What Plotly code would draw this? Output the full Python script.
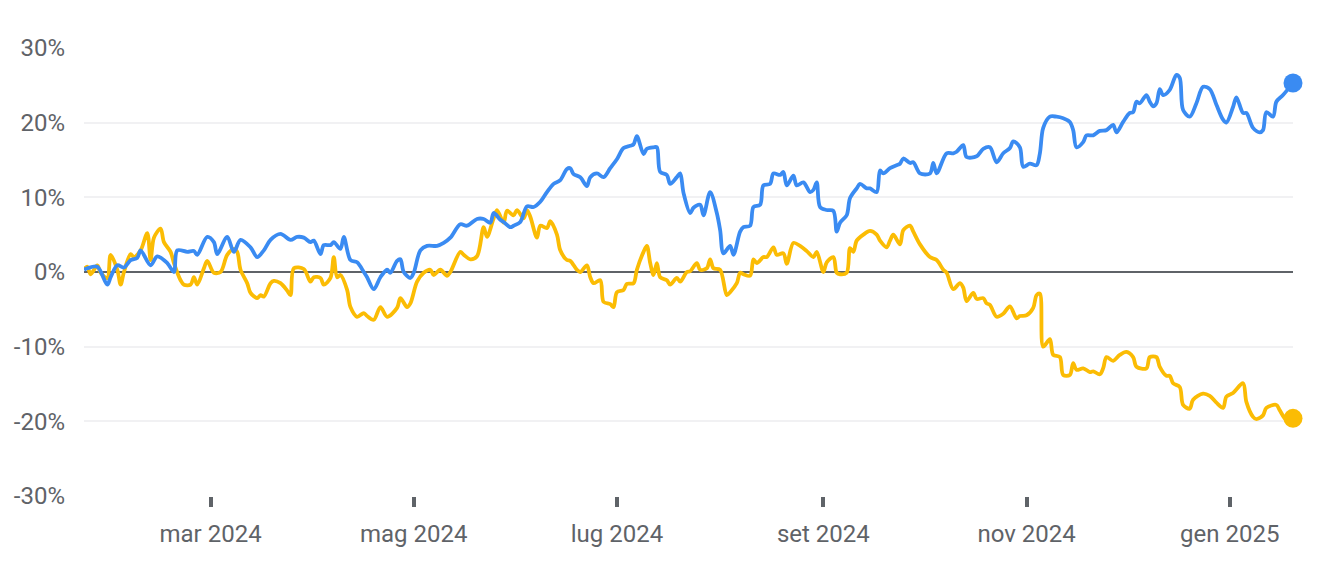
import plotly.graph_objects as go

# ---- data (cumulative % change) ----
blue_dates = [
    "2024-01-23","2024-01-24","2024-01-27","2024-01-30","2024-01-31","2024-02-02","2024-02-04","2024-02-06",
    "2024-02-08","2024-02-09","2024-02-12","2024-02-14","2024-02-17","2024-02-19","2024-02-20","2024-02-23",
    "2024-02-25","2024-02-26","2024-02-29","2024-03-02","2024-03-03","2024-03-06","2024-03-08","2024-03-10",
    "2024-03-13","2024-03-15","2024-03-17","2024-03-19","2024-03-22","2024-03-25","2024-03-27","2024-03-29",
    "2024-03-31","2024-04-01","2024-04-03","2024-04-04","2024-04-06","2024-04-07","2024-04-09","2024-04-10",
    "2024-04-12","2024-04-14","2024-04-16","2024-04-17","2024-04-19","2024-04-21","2024-04-23","2024-04-24",
    "2024-04-26","2024-04-27","2024-04-28","2024-04-30","2024-05-01","2024-05-03","2024-05-05","2024-05-08",
    "2024-05-10","2024-05-12","2024-05-15","2024-05-17","2024-05-20","2024-05-22","2024-05-24","2024-05-25",
    "2024-05-27","2024-05-28","2024-05-30","2024-05-31","2024-06-02","2024-06-04","2024-06-06","2024-06-08",
    "2024-06-10","2024-06-12","2024-06-14","2024-06-16","2024-06-17","2024-06-18","2024-06-20","2024-06-22",
    "2024-06-23","2024-06-25","2024-06-27","2024-06-29","2024-07-01","2024-07-03","2024-07-05","2024-07-06",
    "2024-07-07","2024-07-09","2024-07-10","2024-07-12","2024-07-13","2024-07-14","2024-07-16","2024-07-17",
    "2024-07-19","2024-07-20","2024-07-21","2024-07-23","2024-07-24","2024-07-26","2024-07-27","2024-07-29",
    "2024-07-31","2024-08-01","2024-08-02","2024-08-04","2024-08-05","2024-08-07","2024-08-08","2024-08-10",
    "2024-08-11","2024-08-13","2024-08-14","2024-08-16","2024-08-17","2024-08-19","2024-08-20","2024-08-21",
    "2024-08-23","2024-08-24","2024-08-26","2024-08-28","2024-08-29","2024-08-30","2024-08-31","2024-09-02",
    "2024-09-04","2024-09-05","2024-09-06","2024-09-08","2024-09-09","2024-09-11","2024-09-12","2024-09-14",
    "2024-09-15","2024-09-17","2024-09-18","2024-09-19","2024-09-21","2024-09-23","2024-09-24","2024-09-25",
    "2024-09-27","2024-09-28","2024-09-30","2024-10-03","2024-10-04","2024-10-05","2024-10-08","2024-10-10",
    "2024-10-11","2024-10-13","2024-10-14","2024-10-17","2024-10-19","2024-10-21","2024-10-23","2024-10-25",
    "2024-10-27","2024-10-28","2024-10-30","2024-10-31","2024-11-02","2024-11-04","2024-11-05","2024-11-06",
    "2024-11-08","2024-11-10","2024-11-12","2024-11-14","2024-11-15","2024-11-16","2024-11-18","2024-11-19",
    "2024-11-21","2024-11-23","2024-11-25","2024-11-27","2024-11-28","2024-11-30","2024-12-02","2024-12-03",
    "2024-12-04","2024-12-05","2024-12-07","2024-12-08","2024-12-09","2024-12-10","2024-12-11","2024-12-12",
    "2024-12-14","2024-12-16","2024-12-17","2024-12-18","2024-12-20","2024-12-22","2024-12-24","2024-12-26",
    "2024-12-28","2024-12-30","2024-12-31","2025-01-02","2025-01-03","2025-01-05","2025-01-06","2025-01-08",
    "2025-01-10","2025-01-11","2025-01-12","2025-01-14","2025-01-15","2025-01-17","2025-01-20",
]
blue_values = [
    0.3,0.5,0.7,-1.7,-0.7,0.9,0.6,1.6,
    1.9,2.9,0.9,2.1,1.2,0.0,2.9,2.7,
    2.8,2.3,4.7,4.0,2.4,4.7,2.7,4.3,
    3.3,2.0,2.9,4.3,5.1,4.3,4.7,4.6,
    4.0,4.2,2.4,3.6,3.6,4.0,3.1,4.7,
    1.6,1.3,0.0,-0.7,-2.3,-0.7,0.3,-0.1,
    1.5,1.7,0.0,-0.8,-0.1,2.9,3.5,3.5,
    3.9,4.6,6.4,6.2,7.1,7.1,6.6,7.9,
    7.0,6.7,6.0,6.2,6.7,8.8,8.7,9.4,
    10.7,11.8,12.3,13.8,13.9,13.1,12.7,11.5,
    12.7,13.2,12.7,13.9,15.1,16.6,16.9,17.1,
    18.2,15.8,16.5,16.7,16.7,13.4,13.0,11.8,
    12.7,13.2,10.6,7.9,8.6,9.0,7.6,10.7,
    7.9,5.6,2.5,3.5,2.3,5.4,6.0,6.2,
    8.7,9.0,11.6,11.8,13.2,13.0,13.4,11.6,
    12.9,11.6,12.0,10.7,11.0,12.0,8.7,8.3,
    8.2,5.4,6.6,7.6,9.9,11.2,11.8,11.2,
    11.2,10.7,13.6,13.2,13.9,14.3,14.5,15.2,
    14.6,14.7,13.2,13.2,14.6,13.2,15.9,15.9,
    16.1,17.0,15.4,15.5,16.5,16.7,14.7,15.9,
    16.6,17.5,16.7,14.1,14.5,14.3,15.9,19.3,
    20.8,20.8,20.6,20.1,19.0,16.7,17.4,18.3,
    18.3,18.9,19.0,19.7,18.7,20.1,21.3,21.4,
    22.8,22.6,23.7,22.8,22.2,22.6,24.5,23.7,
    24.4,26.4,26.0,21.7,20.8,22.6,24.8,24.5,
    22.4,20.4,20.0,22.1,23.4,21.3,21.3,19.3,
    18.7,19.0,21.4,20.8,22.8,23.7,25.3,
]

yellow_dates = [
    "2024-01-23","2024-01-24","2024-01-25","2024-01-27","2024-01-28","2024-01-30","2024-01-31","2024-02-02",
    "2024-02-03","2024-02-04","2024-02-06","2024-02-07","2024-02-09","2024-02-11","2024-02-12","2024-02-13",
    "2024-02-15","2024-02-16","2024-02-18","2024-02-19","2024-02-21","2024-02-22","2024-02-24","2024-02-25",
    "2024-02-26","2024-02-28","2024-02-29","2024-03-02","2024-03-04","2024-03-06","2024-03-08","2024-03-09",
    "2024-03-10","2024-03-12","2024-03-13","2024-03-15","2024-03-16","2024-03-17","2024-03-19","2024-03-20",
    "2024-03-22","2024-03-24","2024-03-25","2024-03-26","2024-03-29","2024-03-31","2024-04-01","2024-04-03",
    "2024-04-04","2024-04-06","2024-04-07","2024-04-08","2024-04-09","2024-04-11","2024-04-12","2024-04-14",
    "2024-04-16","2024-04-17","2024-04-19","2024-04-21","2024-04-23","2024-04-26","2024-04-27","2024-04-29",
    "2024-04-30","2024-05-02","2024-05-04","2024-05-06","2024-05-07","2024-05-09","2024-05-11","2024-05-12",
    "2024-05-15","2024-05-16","2024-05-18","2024-05-20","2024-05-22","2024-05-23","2024-05-25","2024-05-26",
    "2024-05-28","2024-05-29","2024-05-31","2024-06-01","2024-06-03","2024-06-04","2024-06-05","2024-06-07",
    "2024-06-08","2024-06-10","2024-06-11","2024-06-13","2024-06-14","2024-06-16","2024-06-17","2024-06-19",
    "2024-06-20","2024-06-22","2024-06-23","2024-06-24","2024-06-26","2024-06-27","2024-06-29","2024-06-30",
    "2024-07-01","2024-07-03","2024-07-04","2024-07-06","2024-07-07","2024-07-09","2024-07-10","2024-07-11",
    "2024-07-12","2024-07-13","2024-07-14","2024-07-16","2024-07-17","2024-07-19","2024-07-20","2024-07-22",
    "2024-07-23","2024-07-25","2024-07-26","2024-07-28","2024-07-29","2024-07-30","2024-08-01","2024-08-03",
    "2024-08-04","2024-08-06","2024-08-07","2024-08-08","2024-08-10","2024-08-11","2024-08-12","2024-08-14",
    "2024-08-15","2024-08-17","2024-08-18","2024-08-20","2024-08-21","2024-08-23","2024-08-25","2024-08-27",
    "2024-08-29","2024-08-30","2024-09-01","2024-09-02","2024-09-04","2024-09-05","2024-09-06","2024-09-08",
    "2024-09-09","2024-09-10","2024-09-11","2024-09-13","2024-09-15","2024-09-17","2024-09-18","2024-09-20",
    "2024-09-21","2024-09-22","2024-09-24","2024-09-25","2024-09-27","2024-09-28","2024-09-30","2024-10-03",
    "2024-10-05","2024-10-07","2024-10-08","2024-10-10","2024-10-12","2024-10-13","2024-10-14","2024-10-16",
    "2024-10-17","2024-10-19","2024-10-20","2024-10-21","2024-10-23","2024-10-25","2024-10-27","2024-10-29",
    "2024-10-30","2024-11-01","2024-11-03","2024-11-04","2024-11-05","2024-11-06","2024-11-08","2024-11-09",
    "2024-11-11","2024-11-12","2024-11-14","2024-11-15","2024-11-16","2024-11-18","2024-11-20","2024-11-21",
    "2024-11-23","2024-11-24","2024-11-25","2024-11-27","2024-11-29","2024-12-01","2024-12-03","2024-12-04",
    "2024-12-07","2024-12-08","2024-12-10","2024-12-11","2024-12-13","2024-12-14","2024-12-15","2024-12-17",
    "2024-12-18","2024-12-20","2024-12-21","2024-12-24","2024-12-26","2024-12-28","2024-12-30","2024-12-31",
    "2025-01-02","2025-01-05","2025-01-06","2025-01-08","2025-01-09","2025-01-11","2025-01-12","2025-01-15",
    "2025-01-16","2025-01-18","2025-01-20",
]
yellow_values = [
    0.4,0.7,-0.3,0.9,-0.1,-0.8,2.3,0.3,
    -1.7,0.0,2.4,2.0,2.9,5.2,1.6,4.6,
    5.8,4.0,2.7,1.2,-1.1,-1.7,-1.7,-0.7,
    -1.7,0.5,1.5,-0.1,0.0,2.3,3.1,2.7,
    0.3,-1.5,-2.8,-3.5,-3.1,-3.3,-1.5,-1.2,
    -1.5,-2.5,-3.1,0.5,0.4,-1.3,-0.7,-0.8,
    -1.7,-0.8,2.0,-0.7,-0.4,-2.4,-4.7,-6.0,
    -5.5,-5.9,-6.4,-4.7,-6.0,-4.8,-3.5,-4.7,
    -4.2,-1.3,-0.1,0.3,-0.4,0.3,-0.5,0.0,
    2.7,2.3,1.7,2.1,6.0,4.7,7.2,8.3,
    6.6,8.2,7.6,8.3,7.2,8.3,7.4,4.6,
    6.2,5.9,6.8,5.0,2.9,1.6,1.5,0.3,
    0.0,0.9,-0.7,-1.5,-1.1,-4.0,-4.3,-4.7,
    -2.7,-2.4,-1.6,-1.5,0.3,2.7,3.5,1.2,
    -0.4,1.2,-0.7,-1.1,-1.7,-0.8,-1.3,0.0,
    0.1,1.2,0.3,0.5,1.7,0.5,0.3,-3.1,
    -2.7,-1.5,-0.1,-0.3,-0.5,1.7,1.2,2.0,
    2.0,3.3,2.3,2.5,1.1,3.9,3.5,2.8,
    2.0,2.7,0.0,1.3,2.0,-0.1,-0.3,-0.1,
    3.2,2.7,4.2,5.0,5.5,5.0,4.2,3.3,
    4.2,5.0,3.7,5.6,6.2,5.4,3.7,2.0,
    1.6,0.3,-0.1,-2.3,-1.5,-2.1,-3.9,-2.8,
    -3.6,-3.5,-4.2,-4.4,-6.0,-5.6,-4.6,-6.2,
    -5.9,-5.8,-4.8,-3.1,-2.9,-10.0,-9.0,-11.1,
    -11.4,-13.8,-13.8,-12.2,-13.1,-12.9,-13.4,-13.3,
    -13.7,-12.9,-11.4,-11.9,-11.1,-10.7,-11.4,-12.7,
    -12.9,-11.4,-11.4,-12.7,-13.9,-13.9,-14.9,-15.4,
    -17.8,-18.3,-17.1,-16.3,-16.6,-17.5,-18.2,-16.7,
    -16.2,-14.9,-17.4,-19.4,-19.7,-19.2,-18.2,-17.8,
    -18.5,-19.8,-19.6,
]

x_tick_dates = ["2024-03-01", "2024-05-01", "2024-07-01", "2024-09-01", "2024-11-01", "2025-01-01"]
x_tick_labels = ["mar 2024", "mag 2024", "lug 2024", "set 2024", "nov 2024", "gen 2025"]
y_tick_values = [-30, -20, -10, 0, 10, 20, 30]
y_tick_labels = ["-30%", "-20%", "-10%", "0%", "10%", "20%", "30%"]

BLUE = "#3a8bf2"
YELLOW = "#fbbc04"
GRAY = "#5f6368"

fig = go.Figure()
for dates, vals, color in [(yellow_dates, yellow_values, YELLOW), (blue_dates, blue_values, BLUE)]:
    fig.add_trace(go.Scatter(
        x=dates, y=vals, mode="lines",
        line=dict(color=color, width=3.8, shape="spline", smoothing=0.9),
        hoverinfo="skip", showlegend=False, cliponaxis=False,
    ))
    fig.add_trace(go.Scatter(
        x=[dates[-1]], y=[vals[-1]], mode="markers",
        marker=dict(color=color, size=19),
        hoverinfo="skip", showlegend=False, cliponaxis=False,
    ))

fig.update_layout(
    width=1338, height=562,
    margin=dict(l=76, r=53, t=40, b=74),
    paper_bgcolor="white", plot_bgcolor="white",
    font=dict(family="Roboto, sans-serif", size=24, color=GRAY),
)
fig.update_xaxes(
    type="date", range=["2024-01-23", "2025-01-20"],
    tickvals=x_tick_dates, ticktext=x_tick_labels,
    ticks="outside", ticklen=10, tickwidth=3.5, tickcolor=GRAY,
    showgrid=False, showline=False, zeroline=False,
    ticklabelstandoff=6, automargin=False,
)
fig.update_yaxes(
    range=[-30, 30], tickvals=y_tick_values, ticktext=y_tick_labels,
    showgrid=True, gridcolor="#f1f1f3", gridwidth=1.5,
    zeroline=True, zerolinecolor=GRAY, zerolinewidth=1.8,
    showline=False, ticks="", ticklabelstandoff=18, automargin=False,
)

fig.write_html("out.html")
